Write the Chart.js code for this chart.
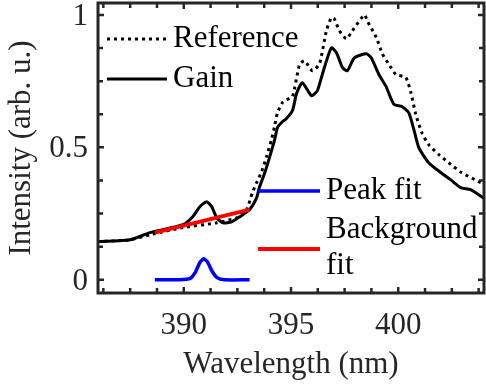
<!DOCTYPE html>
<html>
<head>
<meta charset="utf-8">
<script src="https://cdn.jsdelivr.net/npm/chart.js@4.4.0/dist/chart.umd.min.js"></script>
<style>
  html, body { margin: 0; padding: 0; background: #fff; }
  #wrap { width: 486px; height: 387px; }
</style>
</head>
<body>
<div id="wrap"><canvas id="spectrum" width="486" height="387"></canvas></div>
<script>
// spectra, normalized to the reference maximum
const refWavelength = [385.98, 387.5, 388.43, 389.96, 391.54, 392.47, 392.93, 393.2, 393.4, 393.63,
  393.86, 394.09, 394.23, 394.37, 394.6, 394.79, 395.07, 395.4, 395.63, 396.0,
  396.33, 396.65, 396.88, 397.02, 397.26, 397.58, 397.86, 398.42, 398.56, 398.98,
  399.26, 399.57, 399.89, 400.35, 400.59, 400.82, 401.1, 401.42, 401.89, 402.35,
  402.95, 403.74, 404.0];
const refIntensity = [0.144, 0.151, 0.170, 0.197, 0.215, 0.234, 0.265, 0.329, 0.367, 0.408,
  0.465, 0.529, 0.578, 0.631, 0.669, 0.680, 0.692, 0.813, 0.827, 0.789,
  0.816, 0.940, 0.990, 0.985, 0.940, 0.910, 0.940, 1.0, 0.977, 0.914,
  0.853, 0.813, 0.775, 0.764, 0.707, 0.624, 0.556, 0.510, 0.473, 0.442,
  0.405, 0.371, 0.362];

const gainWavelength = [385.98, 387.5, 388.43, 389.96, 390.42, 390.75, 391.07, 391.3, 391.54, 391.82,
  392.24, 392.61, 393.07, 393.4, 393.53, 393.77, 394.0, 394.23, 394.37, 394.56,
  394.79, 395.07, 395.26, 395.53, 395.95, 396.23, 396.47, 396.88, 397.12, 397.4,
  397.63, 397.95, 398.51, 398.74, 399.1, 399.43, 399.8, 400.17, 400.49, 400.73,
  400.96, 401.42, 401.98, 402.44, 402.91, 403.37, 403.88, 404.0];
const gainIntensity = [0.144, 0.151, 0.178, 0.208, 0.238, 0.276, 0.295, 0.276, 0.234, 0.215,
  0.219, 0.238, 0.265, 0.310, 0.350, 0.402, 0.462, 0.526, 0.575, 0.594,
  0.609, 0.639, 0.703, 0.744, 0.695, 0.714, 0.778, 0.876, 0.857, 0.801,
  0.789, 0.838, 0.853, 0.838, 0.775, 0.730, 0.662, 0.654, 0.631, 0.567,
  0.499, 0.442, 0.405, 0.378, 0.348, 0.340, 0.314, 0.308];

const peakWavelength = [388.65, 389.8, 390.3, 390.55, 390.75, 390.93, 391.1, 391.3, 391.55, 391.9, 393.07];
const peakIntensity = [0, 0, 0.005, 0.03, 0.065, 0.079, 0.068, 0.035, 0.008, 0, 0];

const bgWavelength = [388.65, 393.07];
const bgIntensity = [0.178, 0.265];

const xTicks = [390, 395, 400];
const yTicks = [0, 0.5, 1];
const xMinorStep = 1.25;
const yMinorStep = 0.125;

const AXIS_COLOR = '#262626';
const SERIF = '"Liberation Serif", "Times New Roman", serif';
const toPoints = (xs, ys) => xs.map((x, i) => ({ x: x, y: ys[i] }));

// where each legend entry sits (line sample from x0 to x1, text lines below each other)
const legendSpots = {
  'Reference': { x0: 107, x1: 167, y: 39, textX: 173, lines: ['Reference'] },
  'Gain': { x0: 107, x1: 167, y: 79, textX: 173, lines: ['Gain'] },
  'Peak fit': { x0: 258, x1: 320, y: 191, textX: 326, lines: ['Peak fit'] },
  'Background fit': { x0: 258, x1: 320, y: 249, textX: 326, lines: ['Background', 'fit'], textY: 230 }
};

// closed box with inward major/minor ticks on all four sides
const framePlugin = {
  id: 'frame',
  afterDatasetsDraw(chart) {
    const { ctx, chartArea: a, scales: { x, y } } = chart;
    ctx.save();
    ctx.strokeStyle = AXIS_COLOR;
    ctx.lineWidth = 2.5;
    ctx.beginPath();
    for (let v = Math.ceil(x.min / xMinorStep) * xMinorStep; v <= x.max; v += xMinorStep) {
      const px = x.getPixelForValue(v);
      const len = xTicks.includes(v) ? 6 : 5;
      ctx.moveTo(px, a.bottom); ctx.lineTo(px, a.bottom - len);
      ctx.moveTo(px, a.top); ctx.lineTo(px, a.top + len);
    }
    for (let v = Math.ceil(y.min / yMinorStep) * yMinorStep; v <= y.max; v += yMinorStep) {
      const py = y.getPixelForValue(v);
      const len = yTicks.includes(v) ? 6 : 5;
      ctx.moveTo(a.left, py); ctx.lineTo(a.left + len, py);
      ctx.moveTo(a.right, py); ctx.lineTo(a.right - len, py);
    }
    ctx.stroke();
    ctx.lineWidth = 3;
    ctx.strokeRect(a.left, a.top, a.right - a.left, a.bottom - a.top);
    ctx.restore();
  }
};

const legendPlugin = {
  id: 'insideLegend',
  afterDraw(chart) {
    const ctx = chart.ctx;
    ctx.save();
    ctx.font = '31px ' + SERIF;
    ctx.fillStyle = '#000';
    ctx.textBaseline = 'middle';
    ctx.textAlign = 'left';
    chart.data.datasets.forEach(ds => {
      const s = legendSpots[ds.label];
      if (!s) return;
      ctx.strokeStyle = ds.borderColor;
      ctx.lineWidth = ds.borderWidth;
      ctx.setLineDash(ds.borderDash || []);
      ctx.beginPath();
      ctx.moveTo(s.x0, s.y);
      ctx.lineTo(s.x1, s.y);
      ctx.stroke();
      const ty = s.textY !== undefined ? s.textY : s.y;
      s.lines.forEach((t, i) => ctx.fillText(t, s.textX, ty + i * 36));
    });
    ctx.restore();
  }
};

new Chart(document.getElementById('spectrum'), {
  type: 'line',
  data: {
    datasets: [
      {
        label: 'Reference',
        data: toPoints(refWavelength, refIntensity),
        borderColor: '#000',
        borderWidth: 3,
        borderDash: [3, 4],
        order: 4
      },
      {
        label: 'Gain',
        data: toPoints(gainWavelength, gainIntensity),
        borderColor: '#000',
        borderWidth: 3,
        order: 3
      },
      {
        label: 'Peak fit',
        data: toPoints(peakWavelength, peakIntensity),
        borderColor: '#0000ff',
        borderWidth: 3.5,
        order: 1
      },
      {
        label: 'Background fit',
        data: toPoints(bgWavelength, bgIntensity),
        borderColor: '#ff0000',
        borderWidth: 4,
        order: 2
      }
    ]
  },
  options: {
    responsive: false,
    animation: false,
    events: [],
    layout: { padding: { top: 3, right: 2, left: 0, bottom: 0 } },
    elements: {
      point: { radius: 0 },
      line: { tension: 0.2, fill: false, borderCapStyle: 'butt' }
    },
    plugins: {
      legend: { display: false },
      tooltip: { enabled: false }
    },
    scales: {
      x: {
        type: 'linear',
        min: 386,
        max: 404,
        afterBuildTicks: scale => { scale.ticks = xTicks.map(v => ({ value: v })); },
        afterFit: scale => {
          scale.height = 94;
          scale.paddingLeft = 0;
          scale.paddingRight = 0;
        },
        grid: { display: false, drawTicks: false },
        border: { display: false },
        ticks: {
          padding: 14,
          maxRotation: 0,
          autoSkip: false,
          color: AXIS_COLOR,
          font: { family: SERIF, size: 31 },
          callback: v => String(v)
        },
        title: {
          display: true,
          text: 'Wavelength (nm)',
          color: AXIS_COLOR,
          font: { family: SERIF, size: 31 },
          padding: { top: 0, bottom: 4 }
        }
      },
      y: {
        type: 'linear',
        min: -0.05,
        max: 1.045,
        afterBuildTicks: scale => { scale.ticks = yTicks.map(v => ({ value: v })); },
        afterFit: scale => {
          scale.width = 98;
          scale.paddingTop = 0;
          scale.paddingBottom = 0;
        },
        grid: { display: false, drawTicks: false },
        border: { display: false },
        ticks: {
          padding: 10,
          labelOffset: 2,
          autoSkip: false,
          color: AXIS_COLOR,
          font: { family: SERIF, size: 31 },
          callback: v => String(v)
        },
        title: {
          display: true,
          text: 'Intensity (arb. u.)',
          color: AXIS_COLOR,
          font: { family: SERIF, size: 31 },
          padding: { top: 3, bottom: 0 }
        }
      }
    }
  },
  plugins: [framePlugin, legendPlugin]
});
</script>
</body>
</html>
